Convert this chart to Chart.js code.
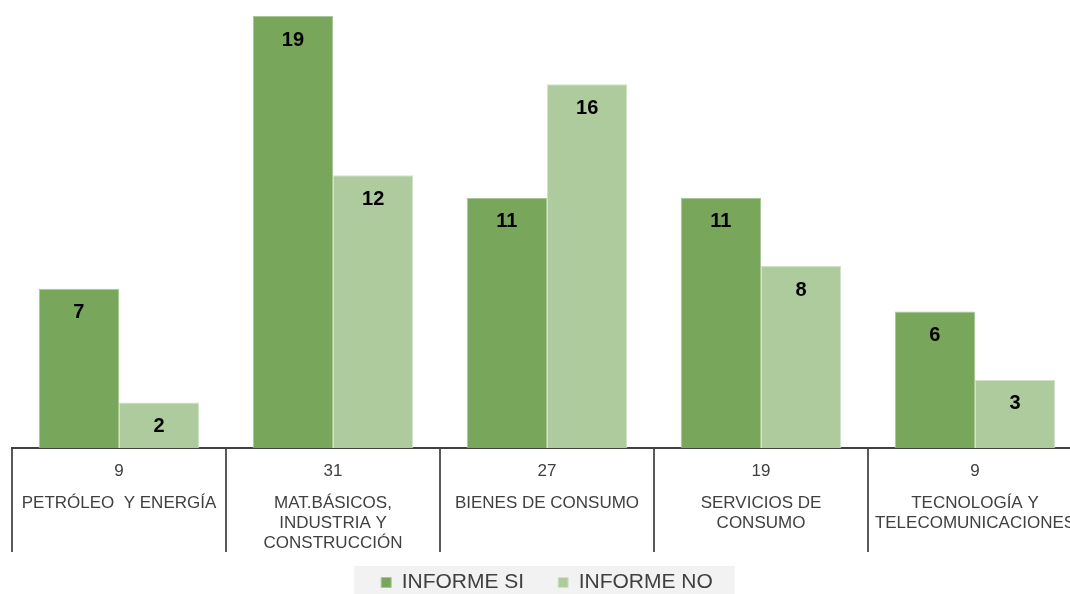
<!DOCTYPE html>
<html>
<head>
<meta charset="utf-8">
<script src="https://cdn.jsdelivr.net/npm/chart.js@4.4.1/dist/chart.umd.min.js"></script>
<style>
  html, body { margin: 0; padding: 0; background: #fff; overflow: hidden; }
  #caja { width: 1090px; height: 594px; }
</style>
</head>
<body>
<div id="caja"><canvas id="grafico"></canvas></div>
<script>
// sectores (cada uno en varias lineas)
const sectores = [
  ["PETRÓLEO  Y ENERGÍA"],
  ["MAT.BÁSICOS,", "INDUSTRIA Y", "CONSTRUCCIÓN"],
  ["BIENES DE CONSUMO"],
  ["SERVICIOS DE", "CONSUMO"],
  ["TECNOLOGÍA Y", "TELECOMUNICACIONES"]
];
const informeSi = [7, 19, 11, 11, 6];
const informeNo = [2, 12, 16, 8, 3];

const verdeOscuro = "#78a65a";
const verdeClaro = "#aecb9e";
const grisTexto = "#404040";

// numeros encima de cada barra
const etiquetasBarras = {
  id: "etiquetasBarras",
  afterDatasetsDraw(chart) {
    const ctx = chart.ctx;
    ctx.save();
    ctx.font = "bold 20px 'Liberation Sans', Arial, sans-serif";
    ctx.fillStyle = "#000";
    ctx.textAlign = "center";
    ctx.textBaseline = "middle";
    chart.data.datasets.forEach((ds, i) => {
      chart.getDatasetMeta(i).data.forEach((barra, j) => {
        ctx.fillText(ds.data[j], barra.x, barra.y + 24);
      });
    });
    ctx.restore();
  }
};

// tabla bajo el eje: total y nombre del sector
const tablaSectores = {
  id: "tablaSectores",
  afterDraw(chart) {
    const ctx = chart.ctx;
    const x = chart.scales.x;
    ctx.save();
    ctx.font = "17px 'Liberation Sans', Arial, sans-serif";
    ctx.fillStyle = grisTexto;
    ctx.textAlign = "center";
    ctx.textBaseline = "middle";
    sectores.forEach((lineas, i) => {
      const cx = x.getPixelForValue(i);
      const total = informeSi[i] + informeNo[i];
      ctx.fillText(total, cx, x.top + 23);
      lineas.forEach((t, k) => {
        ctx.fillText(t, cx, x.top + 55 + k * 20);
      });
    });
    ctx.restore();
  }
};

// fondo gris de la leyenda
const fondoLeyenda = {
  id: "fondoLeyenda",
  afterDraw(chart) {
    const cajas = chart.legend.legendHitBoxes;
    if (!cajas || !cajas.length) return;
    const ultima = cajas[cajas.length - 1];
    const izq = cajas[0].left - 27;
    const der = ultima.left + ultima.width + 22;
    const arriba = cajas[0].top - 6;
    const ctx = chart.ctx;
    ctx.save();
    ctx.globalCompositeOperation = "destination-over";
    ctx.fillStyle = "#f2f2f2";
    ctx.fillRect(izq, arriba, der - izq, chart.height - arriba);
    ctx.restore();
  }
};

const grafico = new Chart(document.getElementById("grafico"), {
  type: "bar",
  data: {
    labels: sectores,
    datasets: [
      {
        label: "INFORME SI",
        data: informeSi,
        backgroundColor: verdeOscuro,
        borderColor: "#a9c796",
        borderWidth: 1
      },
      {
        label: "INFORME NO",
        data: informeNo,
        backgroundColor: verdeClaro,
        borderColor: "#d3e3c9",
        borderWidth: 1
      }
    ]
  },
  options: {
    responsive: true,
    maintainAspectRatio: false,
    animation: false,
    layout: { padding: { left: 12, right: 8, top: 16, bottom: -9 } },
    datasets: {
      bar: { categoryPercentage: 0.75, barPercentage: 1 }
    },
    scales: {
      y: { display: false, min: 0, max: 19 },
      x: {
        offset: true,
        afterFit(escala) { escala.height = 90; },
        border: { display: true, color: grisTexto, width: 2 },
        grid: {
          offset: true,
          drawOnChartArea: false,
          drawTicks: true,
          tickLength: 104,
          color: "#595959",
          lineWidth: 2
        },
        ticks: { display: false }
      }
    },
    plugins: {
      tooltip: { enabled: false },
      legend: {
        position: "bottom",
        labels: {
          color: grisTexto,
          boxWidth: 10,
          boxHeight: 10,
          padding: 34,
          font: { size: 21, family: "'Liberation Sans', Arial, sans-serif" }
        }
      }
    }
  },
  plugins: [etiquetasBarras, tablaSectores, fondoLeyenda]
});
</script>
</body>
</html>
